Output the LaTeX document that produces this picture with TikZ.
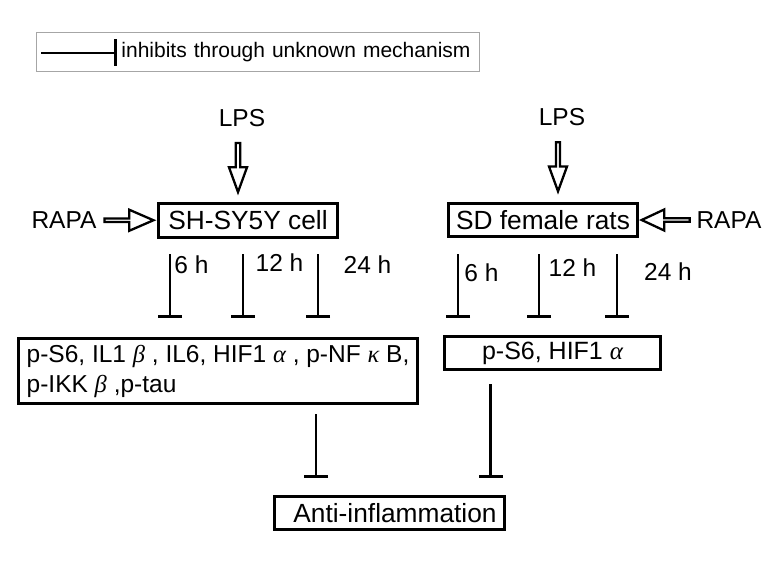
\documentclass[tikz,border=0pt]{standalone}
\usepackage{fontspec}
\setmainfont{Liberation Sans}
\newfontfamily\grkfont{Liberation Serif}
\newcommand{\gk}[1]{{\grkfont\itshape #1}}
\usetikzlibrary{arrows.meta,shapes.arrows,calc}
\begin{document}
\begin{tikzpicture}[x=1pt,y=-1pt,
  lbl/.style={font=\fontsize{24.5}{30}\selectfont, inner sep=0pt},
  boxn/.style={draw, line width=2.8pt, inner sep=0pt, font=\fontsize{26.3}{30}\selectfont},
  hollow/.style={single arrow, draw, fill=white, line width=2.3pt, inner sep=0pt, single arrow head indent=0pt},
  inh/.style={line width=2.6pt, -{Bar[width=24pt,line width=3.3pt]}},
]
\useasboundingbox (0,0) rectangle (779,567);

% legend
\node[draw=gray!70, line width=0.9pt, minimum width=443, minimum height=39, text width=425, align=right, inner xsep=9, inner ysep=0, font=\fontsize{21}{25}\selectfont] (leg) at (258,52) {inhibits through unknown mechanism};
\coordinate (legA) at ($(leg.west)+(5,1)$);
\coordinate (legB) at ($(leg.west)+(81,1)$);
\draw[line width=2.7pt, -{Bar[width=27pt,line width=3.2pt]}] (legA) -- (legB);

% top labels and boxes
\node[lbl] (lps1) at (242,118) {LPS};
\node[lbl] (lps2) at (562,117) {LPS};
\node[lbl] (rapa1) at (64,220) {RAPA};
\node[lbl] (rapa2) at (729,220) {RAPA};
\node[boxn, minimum width=179, minimum height=34] (sh) at (248,220.5) {SH-SY5Y cell\hspace{11pt}};
\node[boxn, minimum width=189, minimum height=33] (sd) at (543,220) {SD female rats};

% hollow arrows
\coordinate (v1) at ($(lps1.south)+(-4,0)$);
\coordinate (v2) at ($(lps2.south)+(-4,0)$);
\node[hollow, shape border rotate=270, minimum height=49, minimum width=18, single arrow head extend=3.5, single arrow tip angle=40] (ha1) at ($(v1)!0.5!(v1 |- sh.north)$) {};
\node[hollow, shape border rotate=270, minimum height=49, minimum width=18, single arrow head extend=4, single arrow tip angle=40] (ha2) at ($(v2)!0.5!(v2 |- sd.north)$) {};
\node[hollow, shape border rotate=0, minimum height=49, minimum width=21, single arrow head extend=5.5, single arrow tip angle=47] (ha3) at ($(rapa1.east)!0.5!(sh.west)$) {};
\node[hollow, shape border rotate=180, minimum height=48, minimum width=21, single arrow head extend=5.5, single arrow tip angle=50] (ha4) at ($(rapa2.west)!0.5!(sd.east)$) {};

% time labels
\node[lbl] (t1) at (191.5,265) {6 h};
\node[lbl] (t2) at (279.5,263) {12 h};
\node[lbl] (t3) at (367.5,265) {24 h};
\node[lbl] (t4) at (481.5,273) {6 h};
\node[lbl] (t5) at (572.5,268) {12 h};
\node[lbl] (t6) at (668,272) {24 h};

% middle boxes
\node[boxn, font=\fontsize{24.5}{30}\selectfont, minimum width=399, minimum height=65, align=left, inner xsep=8pt] (m1) at (218,371) {p-S6, IL1 \gk{β} , IL6, HIF1 \gk{α} , p-NF \gk{κ} B,\\p-IKK \gk{β} ,p-tau};
\node[boxn, font=\fontsize{25}{30}\selectfont, minimum width=216, minimum height=33] (m2) at (552.5,353) {p-S6, HIF1 \gk{α}};
\node[boxn, minimum width=230, minimum height=33] (anti) at (389.5,513) {\hspace{11pt}Anti-inflammation};

% inhibition connectors
\coordinate (a1) at (170,254); \coordinate (b1) at (170,318);
\coordinate (a2) at (243,254); \coordinate (b2) at (243,318);
\coordinate (a3) at (318,254); \coordinate (b3) at (318,318);
\coordinate (a4) at (458,254); \coordinate (b4) at (458,318);
\coordinate (a5) at (539,254); \coordinate (b5) at (539,318);
\coordinate (a6) at (617,254); \coordinate (b6) at (617,318);
\coordinate (a7) at (316,414); \coordinate (b7) at (316,478);
\coordinate (a8) at (490.5,384); \coordinate (b8) at (490.5,478);
\foreach \i in {1,...,8} { \draw[inh] (a\i) -- (b\i); }
\end{tikzpicture}
\end{document}
